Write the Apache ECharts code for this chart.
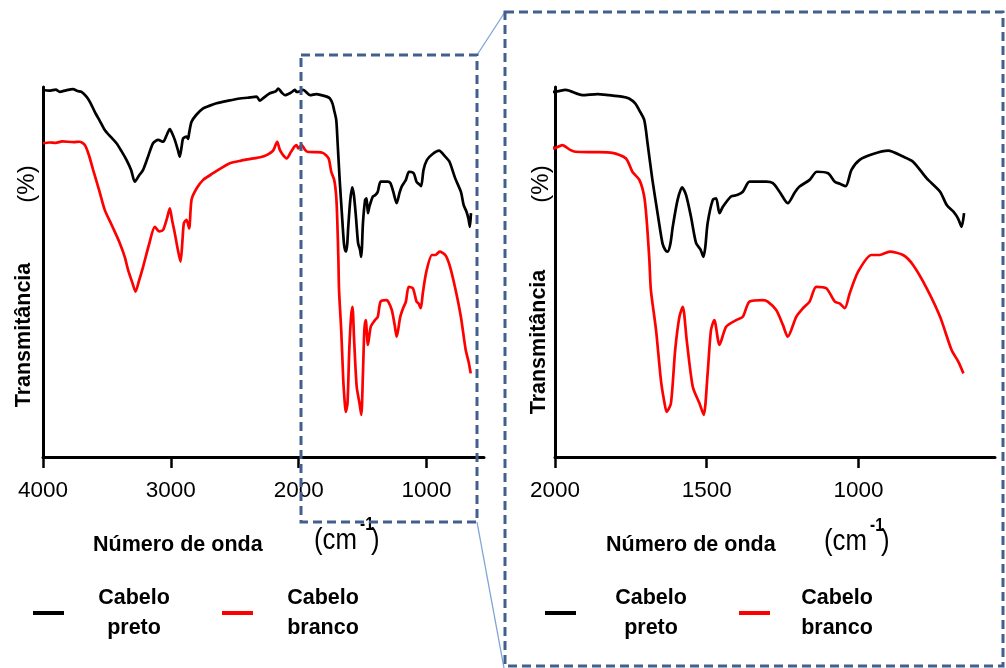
<!DOCTYPE html>
<html>
<head>
<meta charset="utf-8">
<script src="https://cdn.jsdelivr.net/npm/echarts@6/dist/echarts.min.js"></script>
<style>
html,body{margin:0;padding:0;background:#fff;}
#c{width:1006px;height:668px;}
</style>
</head>
<body>
<div id="c"></div>
<script>
// ---- data ----
const seriesNames = ['Cabelo preto', 'Cabelo branco'];
const leftTicks = [4000, 3000, 2000, 1000];
const rightTicks = [2000, 1500, 1000];

const wnPreto = [4000,3950,3900,3869,3820,3765,3730,3699,3660,3630,3595,3555,3517,3470,3425,3385,3347,3310,3282,3250,3217,3180,3139,3099,3060,3035,3008,2990,2969,2945,2930,2915,2904,2877,2865,2857,2838,2800,2747,2700,2642,2550,2460,2400,2329,2303,2270,2225,2180,2160,2130,2107,2060,2030,2016,2003,1965,1910,1860,1822,1780,1756,1735,1723,1706,1695,1679,1662,1646,1637,1629,1620,1612,1596,1581,1568,1552,1535,1520,1511,1505,1497,1480,1469,1458,1447,1420,1400,1381,1359,1326,1304,1282,1260,1233,1210,1194,1161,1137,1100,1078,1060,1042,1023,996,952,902,853,820,775,731,709,687,672,660,652];
const tPreto = [99.2,99.0,99.3,98.7,99.1,99.4,98.9,98.7,97.4,95.8,93.3,90.8,88.4,86.5,84.8,82.6,80.3,77.5,74.4,76.0,77.6,81.0,84.8,85.7,85.2,86.8,88.6,87.5,85.7,83.0,81.2,84.0,86.1,86.6,86.0,87.5,90.6,92.5,94.2,94.9,95.6,96.3,96.9,97.1,97.4,96.3,97.2,98.3,98.8,99.6,98.4,97.8,98.5,99.2,98.7,98.7,99.2,97.8,98.1,97.8,97.4,96.9,95.5,93.8,91.1,84.8,74.9,65.9,57.8,56.0,55.5,57.5,62.2,69.5,72.9,70.8,65.0,57.8,56.0,54.1,56.5,63.2,69.5,69.9,65.9,67.6,70.4,70.8,71.7,74.4,74.4,74.4,74.0,71.7,68.6,71.5,73.1,74.9,77.1,76.7,74.4,73.8,73.2,77.6,80.3,81.9,82.8,81.2,79.8,75.3,71.7,68.1,66.3,64.5,62.2,65.9];

const wnBranco = [4000,3950,3900,3850,3760,3713,3673,3640,3608,3560,3517,3460,3399,3360,3334,3300,3276,3250,3217,3170,3125,3090,3060,3030,3008,2990,2969,2945,2924,2910,2898,2877,2857,2838,2800,2747,2669,2600,2538,2450,2355,2300,2251,2200,2168,2147,2120,2094,2060,2030,2016,2003,1976,1950,1932,1870,1811,1766,1745,1722,1706,1698,1689,1684,1667,1651,1640,1632,1618,1604,1590,1579,1566,1546,1524,1510,1497,1486,1475,1458,1436,1403,1381,1359,1315,1299,1271,1249,1233,1205,1183,1161,1139,1106,1078,1062,1045,1029,1001,957,930,897,853,820,775,731,693,671,654];
const tBranco = [84.8,85.0,84.9,85.3,85.1,85.2,84.3,81.5,77.6,72.0,66.8,62.5,57.8,54.0,50.5,47.0,44.7,47.5,51.4,57.5,62.2,61.0,61.4,64.5,67.2,64.0,60.5,56.0,52.8,58.0,63.2,64.1,61.8,69.5,72.5,74.9,76.7,78.2,79.4,80.1,80.7,81.0,81.6,82.8,85.2,83.0,81.5,80.7,82.5,84.0,84.3,83.4,84.3,83.0,82.5,82.4,82.2,80.7,77.1,74.9,70.4,64.1,53.2,45.1,34.3,20.8,15.0,12.2,14.5,28.9,37.9,40.6,31.6,19.0,14.5,11.4,22.6,34.3,37.0,30.3,35.2,37.0,37.9,42.0,42.4,42.0,39.7,35.7,32.5,37.9,40.2,42.0,46.0,45.6,42.0,41.5,40.2,44.2,50.1,54.6,54.6,55.5,54.6,51.9,45.6,37.9,28.9,25.8,22.6];

const dataPreto = wnPreto.map((w, i) => [w, tPreto[i]]);
const dataBranco = wnBranco.map((w, i) => [w, tBranco[i]]);

// ---- styles ----
const SANS = '"Liberation Sans", Arial, sans-serif';
const BOX = '#41608e';
const LINK = '#7ea4d6';

function xAxisFor(idx, minV, maxV, ticks) {
  return {
    type: 'value', gridIndex: idx, inverse: true, min: minV, max: maxV,
    axisLine: {show: true, onZero: false, lineStyle: {color: '#000', width: 3}},
    axisTick: {show: true, length: 11, customValues: ticks, lineStyle: {color: '#000', width: 2.5}},
    axisLabel: {show: true, customValues: ticks, margin: 22, color: '#000', fontSize: 22.5, fontFamily: SANS,
      formatter: function (v) { return String(v); }},
    splitLine: {show: false}
  };
}
function yAxisFor(idx) {
  return {
    type: 'value', gridIndex: idx, min: 0, max: 100,
    axisLine: {show: true, lineStyle: {color: '#000', width: 3}},
    axisTick: {show: false}, axisLabel: {show: false}, splitLine: {show: false}
  };
}
function legendFor(left, pads) {
  return {
    left: left, top: 587, orient: 'horizontal', itemGap: 50, padding: 0,
    icon: 'rect', itemWidth: 31, itemHeight: 4, selectedMode: false,
    data: seriesNames,
    formatter: function (name) {
      const parts = name.split(' ');
      const p = name === seriesNames[0] ? pads[0] : pads[1];
      return '{s' + p + '|}{a|' + parts[0] + '}\n{s' + p + '|}{a|' + parts[1] + '}';
    },
    textStyle: {
      color: '#000',
      rich: {
        a: {fontSize: 21.5, fontWeight: 'bold', fontFamily: SANS, width: 76, align: 'center', lineHeight: 30, color: '#000'},
        s24: {width: 24}, s27: {width: 27}, s32: {width: 32}
      }
    }
  };
}
function vtext(x, y, text, size, weight) {
  return {type: 'text', x: x, y: y, rotation: Math.PI / 2,
    style: {text: text, fontSize: size, fontWeight: weight, fontFamily: SANS, fill: '#000', align: 'center', verticalAlign: 'middle'}};
}
function htext(x, y, text, size, weight, sx) {
  return {type: 'text', x: x, y: y, scaleX: sx || 1,
    style: {text: text, fontSize: size, fontWeight: weight, fontFamily: SANS, fill: '#000', align: 'left', verticalAlign: 'middle'}};
}
function cmUnit(x, y) {
  return [
    htext(x, y, '(cm', 30, 'normal', 0.86),
    htext(x + 46, y - 16, '-1', 18, 'bold', 0.86),
    htext(x + 57, y, ')', 30, 'normal', 0.86)
  ];
}
function lineSeries(i, axis, data, color) {
  return {name: seriesNames[i], type: 'line', xAxisIndex: axis, yAxisIndex: axis, data: data,
    showSymbol: false, smooth: 0.25, color: color, lineStyle: {color: color, width: 2.7}, z: 3};
}

const chart = echarts.init(document.getElementById('c'), null, {renderer: 'canvas'});
chart.setOption({
  animation: false,
  backgroundColor: '#fff',
  grid: [
    {left: 43, right: 522, top: 87, bottom: 211},
    {left: 555, right: 11, top: 87, bottom: 211}
  ],
  xAxis: [xAxisFor(0, 550, 4000, leftTicks), xAxisFor(1, 550, 2000, rightTicks)],
  yAxis: [yAxisFor(0), yAxisFor(1)],
  legend: [legendFor(33, [27, 27]), legendFor(545, [32, 24])],
  series: [
    lineSeries(0, 0, dataPreto, '#000'),
    lineSeries(1, 0, dataBranco, '#ff0000'),
    lineSeries(0, 1, dataPreto, '#000'),
    lineSeries(1, 1, dataBranco, '#ff0000')
  ],
  graphic: [
    vtext(24, 335, 'Transmitância', 21.5, 'bold'),
    vtext(27, 184, '(%)', 24, 'normal'),
    vtext(539, 342, 'Transmitância', 21.5, 'bold'),
    vtext(541, 184, '(%)', 24, 'normal'),
    htext(93, 545, 'Número de onda', 21.5, 'bold'),
    htext(606, 545, 'Número de onda', 21.5, 'bold'),
    ...cmUnit(314, 541),
    ...cmUnit(824, 542),
    {type: 'rect', shape: {x: 301, y: 55, width: 176, height: 467}, z: 10,
      style: {fill: null, stroke: BOX, lineWidth: 3, lineDash: [9, 5]}},
    {type: 'rect', shape: {x: 505, y: 12, width: 498, height: 654}, z: 10,
      style: {fill: null, stroke: BOX, lineWidth: 3, lineDash: [9, 5]}},
    {type: 'line', shape: {x1: 477, y1: 55, x2: 505, y2: 12}, z: 9, style: {stroke: LINK, lineWidth: 1.3}},
    {type: 'line', shape: {x1: 477, y1: 522, x2: 504, y2: 668}, z: 9, style: {stroke: LINK, lineWidth: 1.3}}
  ]
});
</script>
</body>
</html>
